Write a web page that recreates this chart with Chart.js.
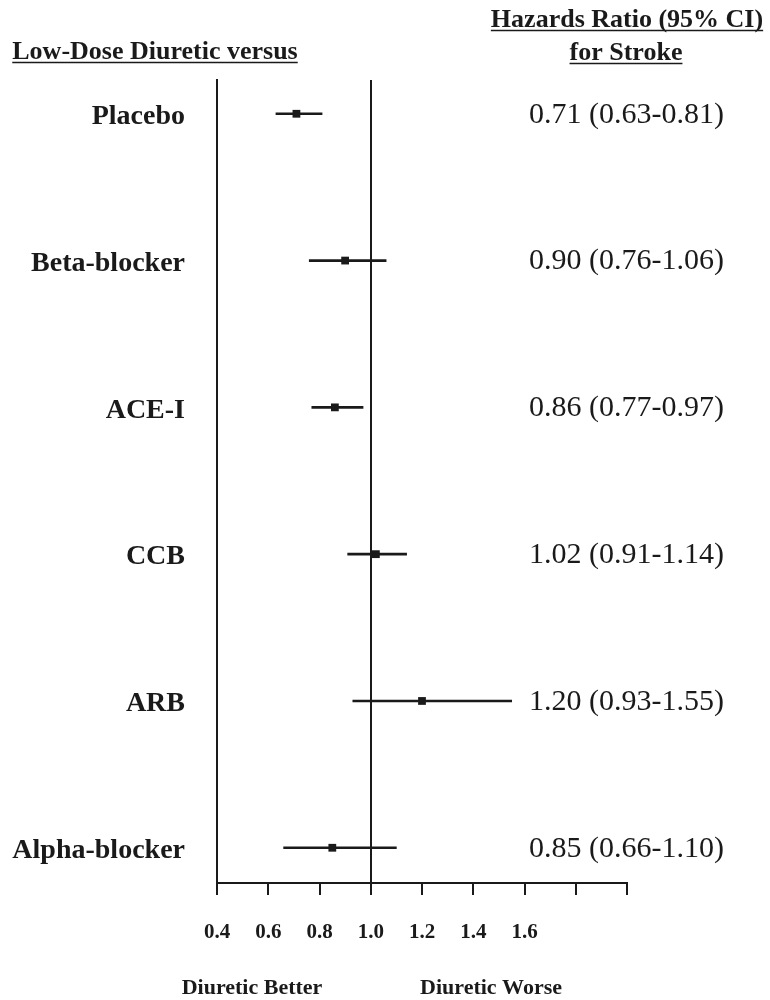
<!DOCTYPE html>
<html>
<head>
<meta charset="utf-8">
<script src="https://cdn.jsdelivr.net/npm/chart.js@4.4.1/dist/chart.umd.min.js"></script>
<style>
    html, body { margin: 0; padding: 0; background: #fff; }
    #wrap { width: 770px; height: 1000px; }
</style>
</head>
<body>
<div id="wrap"><canvas id="chart1" width="770" height="1000"></canvas></div>
<script>
// comparisons: low-dose diuretic versus ...
const comparators = ['Placebo', 'Beta-blocker', 'ACE-I', 'CCB', 'ARB', 'Alpha-blocker'];
const hazardRatio = [0.71, 0.90, 0.86, 1.02, 1.20, 0.85];
const ciLower = [0.63, 0.76, 0.77, 0.91, 0.93, 0.66];
const ciUpper = [0.81, 1.06, 0.97, 1.14, 1.55, 1.10];
const xTickLabels = [0.4, 0.6, 0.8, 1.0, 1.2, 1.4, 1.6];

const ink = '#1a1a1a';
const serif = '"Liberation Serif", "Times New Roman", serif';

function underlined(ctx, text, x, y, font) {
    ctx.font = font;
    ctx.textAlign = 'center';
    ctx.textBaseline = 'alphabetic';
    ctx.fillText(text, x, y);
    const w = ctx.measureText(text).width;
    ctx.beginPath();
    ctx.lineWidth = 1.5;
    ctx.moveTo(x - w / 2, y + 3.5);
    ctx.lineTo(x + w / 2, y + 3.5);
    ctx.stroke();
}

const annotations = {
    id: 'annotations',
    afterDraw(chart) {
        const ctx = chart.ctx;
        const y = chart.scales.y;
        ctx.save();
        ctx.fillStyle = ink;
        ctx.strokeStyle = ink;

        // hazard ratio column
        ctx.font = '30px ' + serif;
        ctx.textAlign = 'left';
        ctx.textBaseline = 'middle';
        comparators.forEach((c, i) => {
            const txt = hazardRatio[i].toFixed(2) + ' (' + ciLower[i].toFixed(2) + '-' + ciUpper[i].toFixed(2) + ')';
            ctx.fillText(txt, 529, y.getPixelForValue(i + 1) + 1);
        });

        // headers
        underlined(ctx, 'Low-Dose Diuretic versus', 155, 59, 'bold 26px ' + serif);
        underlined(ctx, 'Hazards Ratio (95% CI)', 627, 27, 'bold 26px ' + serif);
        underlined(ctx, 'for Stroke', 626, 60, 'bold 26px ' + serif);

        // direction labels
        ctx.font = 'bold 22px ' + serif;
        ctx.textAlign = 'center';
        ctx.textBaseline = 'middle';
        ctx.fillText('Diuretic Better', 252, 988);
        ctx.fillText('Diuretic Worse', 491, 988);
        ctx.restore();
    }
};

function loadChart() {
    const ctx1 = document.getElementById('chart1').getContext('2d');

    const data = {
        datasets: [
            {
                type: 'bar',
                indexAxis: 'y',
                data: comparators.map((c, i) => ({ y: i + 1, x: [ciLower[i], ciUpper[i]] })),
                backgroundColor: ink,
                borderWidth: 0,
                barThickness: 2,
                order: 2
            },
            {
                type: 'scatter',
                data: comparators.map((c, i) => ({ x: hazardRatio[i], y: i + 1 })),
                pointStyle: 'rect',
                pointRadius: 5.5,
                backgroundColor: ink,
                borderWidth: 0,
                order: 1
            }
        ]
    };

    const config = {
        type: 'scatter',
        data: data,
        options: {
            responsive: false,
            animation: false,
            layout: { padding: { top: 80, right: 143, bottom: 0, left: 0 } },
            plugins: { legend: { display: false }, tooltip: { enabled: false } },
            scales: {
                x: {
                    type: 'linear',
                    min: 0.4,
                    max: 2.0,
                    offset: false,
                    ticks: {
                        stepSize: 0.2,
                        padding: 25,
                        color: ink,
                        font: { family: serif, size: 21, weight: 'bold' },
                        callback: (v) => xTickLabels.some(t => Math.abs(t - v) < 1e-6) ? v.toFixed(1) : ''
                    },
                    grid: {
                        drawOnChartArea: true,
                        offset: false,
                        color: (c) => (c.tick && Math.abs(c.tick.value - 1) < 1e-6) ? ink : 'rgba(0,0,0,0)',
                        lineWidth: 2,
                        tickColor: ink,
                        tickLength: 12,
                        tickWidth: 2
                    },
                    border: { display: true, color: ink, width: 2 },
                    afterFit: (s) => { s.height = 117; }
                },
                y: {
                    type: 'linear',
                    reverse: true,
                    offset: false,
                    min: 0.77,
                    max: 6.24,
                    afterBuildTicks: (s) => { s.ticks = comparators.map((c, i) => ({ value: i + 1 })); },
                    ticks: {
                        padding: 32,
                        labelOffset: 3,
                        color: ink,
                        font: { family: serif, size: 28, weight: 'bold' },
                        callback: (v) => comparators[Math.round(v) - 1] || ''
                    },
                    grid: { drawOnChartArea: false, drawTicks: false, offset: false },
                    border: { display: true, color: ink, width: 2 },
                    afterFit: (s) => { s.width = 217; }
                }
            }
        },
        plugins: [annotations]
    };

    const chart1 = new Chart(ctx1, config);
}

loadChart();
</script>
</body>
</html>
